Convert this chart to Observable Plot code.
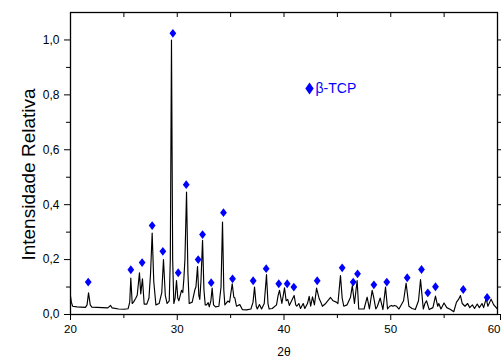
<!DOCTYPE html>
<html><head><meta charset="utf-8">
<script src="https://cdn.jsdelivr.net/npm/d3@7"></script>
<script src="https://cdn.jsdelivr.net/npm/@observablehq/plot@0.6"></script>
<style>body{margin:0;background:#fff}</style>
</head><body><div id="chart"></div>
<script>
const twoTheta = [20.00,20.08,20.20,20.60,21.00,21.40,21.55,21.69,21.85,22.00,22.50,23.00,23.50,23.75,23.90,24.50,25.00,25.40,25.55,25.65,25.78,25.90,26.10,26.25,26.46,26.58,26.74,26.90,27.15,27.35,27.50,27.65,27.80,28.00,28.30,28.55,28.71,28.88,29.05,29.25,29.35,29.46,29.57,29.68,29.80,29.93,30.05,30.15,30.40,30.52,30.62,30.72,30.87,31.00,31.12,31.40,31.65,31.75,31.90,32.02,32.11,32.22,32.37,32.50,32.62,32.75,32.90,33.00,33.15,33.27,33.40,33.58,33.90,34.10,34.24,34.36,34.46,34.74,34.90,35.15,35.30,35.40,35.55,35.86,36.10,36.50,36.90,37.10,37.24,37.40,37.50,37.70,37.90,38.15,38.36,38.50,38.61,38.90,39.30,39.45,39.58,39.80,40.05,40.20,40.35,40.50,40.95,41.10,41.20,41.39,41.55,41.80,41.95,42.20,42.36,42.50,42.67,42.85,43.05,43.30,43.45,43.60,43.85,44.36,44.60,44.90,45.05,45.29,45.45,45.60,45.90,46.23,46.40,46.60,46.85,47.00,47.50,47.79,48.00,48.26,48.40,48.60,48.75,49.01,49.27,49.51,49.70,49.90,50.07,50.20,50.35,50.55,50.77,51.20,51.44,51.70,52.00,52.30,52.60,52.79,53.05,53.20,53.35,53.60,53.95,54.19,54.40,54.50,54.70,54.99,55.25,55.60,55.90,56.16,56.35,56.53,56.70,56.95,57.20,57.40,57.65,57.85,58.10,58.30,58.55,58.70,58.94,59.10,59.40,59.65,60.00];
const intensity = [0.067,0.045,0.030,0.028,0.027,0.026,0.035,0.079,0.035,0.027,0.026,0.025,0.024,0.033,0.024,0.020,0.019,0.021,0.045,0.133,0.040,0.045,0.058,0.070,0.152,0.075,0.130,0.038,0.038,0.060,0.150,0.297,0.120,0.035,0.040,0.080,0.200,0.070,0.040,0.050,0.200,1.000,0.200,0.040,0.060,0.124,0.060,0.050,0.088,0.080,0.130,0.200,0.446,0.150,0.040,0.045,0.090,0.100,0.175,0.070,0.055,0.120,0.270,0.090,0.035,0.035,0.043,0.028,0.050,0.096,0.035,0.028,0.030,0.100,0.337,0.090,0.035,0.049,0.045,0.112,0.063,0.060,0.030,0.036,0.018,0.017,0.020,0.045,0.100,0.030,0.020,0.036,0.020,0.040,0.145,0.040,0.020,0.022,0.035,0.070,0.088,0.040,0.097,0.050,0.055,0.033,0.069,0.035,0.030,0.040,0.022,0.040,0.022,0.040,0.066,0.030,0.064,0.035,0.096,0.057,0.045,0.030,0.038,0.062,0.050,0.045,0.040,0.142,0.060,0.030,0.035,0.063,0.105,0.040,0.124,0.020,0.020,0.063,0.020,0.088,0.063,0.020,0.030,0.060,0.018,0.100,0.020,0.030,0.033,0.030,0.033,0.030,0.020,0.050,0.114,0.030,0.022,0.018,0.050,0.127,0.020,0.040,0.050,0.018,0.025,0.067,0.030,0.040,0.020,0.042,0.025,0.018,0.010,0.045,0.055,0.069,0.040,0.030,0.040,0.025,0.035,0.022,0.038,0.025,0.040,0.025,0.059,0.030,0.056,0.035,0.020];
const peakTwoTheta = [21.66,25.65,26.71,27.65,28.65,29.59,30.09,30.84,31.96,32.37,33.18,34.33,35.18,37.11,38.33,39.51,40.30,40.92,43.11,45.45,46.48,46.89,48.42,49.63,51.54,52.88,53.47,54.19,56.79,59.03];
const peakIntensity = [0.118,0.163,0.189,0.324,0.230,1.024,0.152,0.473,0.200,0.291,0.116,0.371,0.130,0.123,0.167,0.112,0.112,0.100,0.123,0.170,0.118,0.148,0.108,0.118,0.134,0.164,0.079,0.101,0.091,0.062];
const xTicks = [20,30,40,50,60];
const xMinorTicks = [25,35,45,55];
const yTicks = [0,0.2,0.4,0.6,0.8,1.0];
const yMinorTicks = [0.1,0.3,0.5,0.7,0.9];
const xLabel = "2θ";
const yLabel = "Intensidade Relativa";
const legendLabel = "β-TCP";

const trace = twoTheta.map((t, i) => ({t, v: intensity[i]}));
const peaks = peakTwoTheta.map((t, i) => ({t, v: peakIntensity[i]}));
const fmt = d => d.toFixed(1).replace(".", ",");
const diamond = k => ({draw(ctx, size) {
  const r = Math.sqrt(size / Math.PI), h = r * k;
  ctx.moveTo(0, -h); ctx.lineTo(r, 0); ctx.lineTo(0, h); ctx.lineTo(-r, 0); ctx.closePath();
}});
const blank = () => "";
const lastX = xTicks[xTicks.length - 1];

const plot = Plot.plot({
  width: 502, height: 358,
  marginLeft: 70, marginRight: 5, marginTop: 12, marginBottom: 44,
  style: {fontFamily: "'Liberation Sans', Arial, sans-serif", fontSize: "12px", background: "#fff", color: "#000", overflow: "visible"},
  x: {domain: [20, 60]},
  y: {domain: [0, 1.1]},
  marks: [
    Plot.axisY({ticks: yTicks, tickSize: 6, tickPadding: 5, tickFormat: fmt, label: null}),
    Plot.axisY({ticks: yMinorTicks, tickSize: 4, tickFormat: blank, label: null}),
    Plot.axisY({anchor: "right", ticks: [...yTicks, ...yMinorTicks], tickSize: 3, tickFormat: blank, label: null}),
    Plot.axisX({ticks: xTicks.filter(d => d !== lastX), tickSize: 6, tickPadding: 4, tickFormat: d => String(d), label: null, fontSize: 11.5}),
    Plot.axisX({ticks: [lastX], tickSize: 6, tickPadding: 4, tickFormat: d => String(d), label: null, fontSize: 11.5, textAnchor: "end", dx: 3}),
    Plot.axisX({ticks: xMinorTicks, tickSize: 4, tickFormat: blank, label: null}),
    Plot.axisX({anchor: "top", ticks: [...xTicks, ...xMinorTicks], tickSize: -4, tickFormat: blank, label: null}),
    Plot.line(trace, {x: "t", y: "v", stroke: "black", strokeWidth: 1.15}),
    Plot.dot(peaks, {x: "t", y: "v", symbol: diamond(1.3), r: 3.4, fill: "#0000ff", stroke: "none"}),
    Plot.frame({stroke: "black", strokeWidth: 1.3}),
    Plot.text([yLabel], {frameAnchor: "left", rotate: -90, dx: -42, dy: 11, fontSize: 19, text: d => d, textAnchor: "middle", lineAnchor: "middle"}),
    Plot.text([xLabel], {frameAnchor: "bottom", dy: 38, fontSize: 12, text: d => d, textAnchor: "middle", lineAnchor: "middle"}),
    Plot.dot([legendLabel], {frameAnchor: "top-left", dx: 239, dy: 76, symbol: diamond(1.45), r: 4.2, fill: "#0000ff", stroke: "none"}),
    Plot.text([legendLabel], {frameAnchor: "top-left", dx: 245, dy: 76.5, textAnchor: "start", lineAnchor: "middle", fontSize: 14, fill: "#0000ff", text: d => d})
  ]
});
document.getElementById("chart").append(plot);
</script>
</body></html>
